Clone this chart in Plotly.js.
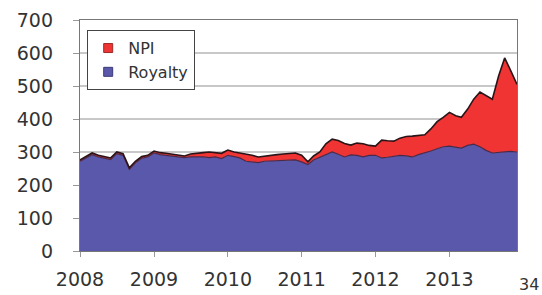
<!DOCTYPE html>
<html>
<head>
<meta charset="utf-8">
<script src="https://cdn.plot.ly/plotly-3.0.1.min.js"></script>
<style>
html,body{margin:0;padding:0;background:#fff;}
#chart{width:542px;height:295px;}
</style>
</head>
<body>
<div id="chart"></div>
<script>
// Monthly series, Jan 2008 .. Dec 2013
const startYear = 2008;
const monthCount = 72;
const royalty = [
  272,283,292,285,280,277,295,290,247,267,281,285,
  297,292,290,288,284,283,285,286,285,283,285,280,
  290,286,282,272,270,268,272,273,275,275,276,276,
  270,262,276,284,292,300,293,285,291,290,285,290,
  290,282,284,286,290,288,285,292,297,303,310,316,
  318,315,312,320,324,316,305,297,298,300,302,300
];
const npi = [
  4,5,5,5,5,5,5,5,5,5,5,5,
  6,6,6,6,6,5,9,11,13,17,14,16,
  16,14,15,22,20,17,16,17,17,19,20,21,
  20,8,12,16,33,39,42,41,30,37,40,30,
  28,54,50,47,52,59,63,58,55,67,82,89,
  102,95,93,110,136,166,165,163,232,285,243,205
];
const tickLabels = ['2008','2009','2010','2011','2012','2013'];
const yTicks = [0,100,200,300,400,500,600,700];
const seriesNames = ['Royalty','NPI'];
const seriesColors = ['#5a58aa','#f03434'];
const seriesEdge = ['#3c3a78','#9a2a2a'];
const pageNumber = '34';

const dates = [];
for (let i = 0; i < monthCount; i++) {
  const y = startYear + Math.floor(i / 12);
  const m = (i % 12) + 1;
  dates.push(y + '-' + String(m).padStart(2, '0') + '-01');
}
const tickVals = tickLabels.map(t => t + '-01-01');

const FONT = 'DejaVu Sans, Liberation Sans, Arial, sans-serif';

const traces = [
  {
    x: dates, y: royalty, name: seriesNames[0], type: 'scatter', mode: 'lines',
    stackgroup: 'one', fillcolor: seriesColors[0], showlegend: false,
    line: {color: '#4a2a4a', width: 1.2, shape: 'linear'}
  },
  {
    x: dates, y: npi, name: seriesNames[1], type: 'scatter', mode: 'lines',
    stackgroup: 'one', fillcolor: seriesColors[1], showlegend: false,
    line: {color: '#2a1418', width: 1.6, shape: 'linear'}
  },
  // legend-only entries with square swatches
  {
    x: [null], y: [null], name: seriesNames[1], type: 'scatter', mode: 'markers',
    marker: {symbol: 'square', size: 9, color: seriesColors[1], line: {color: seriesEdge[1], width: 1}}
  },
  {
    x: [null], y: [null], name: seriesNames[0], type: 'scatter', mode: 'markers',
    marker: {symbol: 'square', size: 9, color: seriesColors[0], line: {color: seriesEdge[0], width: 1}}
  }
];

const layout = {
  width: 542, height: 295,
  margin: {l: 80, r: 25, t: 20, b: 44},
  paper_bgcolor: '#ffffff', plot_bgcolor: '#ffffff',
  font: {family: FONT, color: '#333333'},
  showlegend: true,
  legend: {
    x: 0.016, y: 0.957, xanchor: 'left', yanchor: 'top',
    traceorder: 'normal',
    bgcolor: '#ffffff', bordercolor: '#444444', borderwidth: 1.2,
    font: {family: FONT, size: 16, color: '#333333'},
    itemwidth: 30, tracegroupgap: 0
  },
  xaxis: {
    type: 'date',
    range: [dates[0], dates[dates.length - 1]],
    tickvals: tickVals, ticktext: tickLabels,
    ticks: 'outside', ticklen: 5, tickcolor: '#999999',
    showgrid: false, zeroline: false,
    showline: true, linecolor: '#777777', linewidth: 1.2, mirror: true,
    tickfont: {family: FONT, size: 19, color: '#333333'},
    ticklabelstandoff: 6
  },
  yaxis: {
    range: [0, 700],
    tickvals: yTicks,
    ticks: 'outside', ticklen: 6, tickcolor: '#999999',
    showgrid: true, gridcolor: '#c8c8c8', gridwidth: 1.2,
    zeroline: false,
    showline: true, linecolor: '#777777', linewidth: 1.2, mirror: true,
    tickfont: {family: FONT, size: 19, color: '#333333'},
    ticklabelstandoff: 16
  },
  annotations: [{
    text: pageNumber, xref: 'paper', yref: 'paper',
    x: 1.0, y: -0.145, xanchor: 'left', yanchor: 'middle',
    showarrow: false, font: {family: FONT, size: 16, color: '#333333'}
  }]
};

Plotly.newPlot('chart', traces, layout, {displayModeBar: false, staticPlot: true});
</script>
</body>
</html>
